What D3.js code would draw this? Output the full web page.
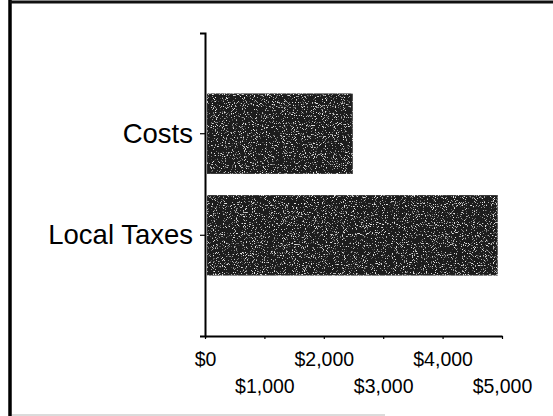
<!DOCTYPE html>
<html>
<head>
<meta charset="utf-8">
<script src="https://cdn.jsdelivr.net/npm/d3@7/dist/d3.min.js"></script>
<style>
  html, body { margin: 0; padding: 0; background: #fff; }
  svg { display: block; font-family: "Liberation Sans", Arial, sans-serif; }
</style>
</head>
<body>
<svg id="chart" width="553" height="416"></svg>
<script>
// Expense categories, drawn bottom to top
const categories = ["Local Taxes", "Costs"];
const amounts = [4920, 2480];
const tickValues = [0, 1000, 2000, 3000, 4000, 5000];
const tickLabels = ["$0", "$1,000", "$2,000", "$3,000", "$4,000", "$5,000"];

const svg = d3.select("#chart");
const W = 553, H = 416;
const plot = { left: 205, right: 502, top: 33, bottom: 336 };

// Grainy fill for the bars
const defs = svg.append("defs");
const f = defs.append("filter").attr("id", "speckle")
  .attr("x", 0).attr("y", 0).attr("width", 1).attr("height", 1);
f.append("feTurbulence").attr("type", "fractalNoise")
  .attr("baseFrequency", 0.9).attr("numOctaves", 2).attr("seed", 7).attr("result", "noise");
f.append("feColorMatrix").attr("in", "noise").attr("type", "matrix")
  .attr("values", "0 0 0 0 0.8  0 0 0 0 0.8  0 0 0 0 0.8  7 0 0 0 -4.2").attr("result", "dots");
f.append("feComposite").attr("in", "dots").attr("in2", "SourceAlpha")
  .attr("operator", "in").attr("result", "clipped");
const merge = f.append("feMerge");
merge.append("feMergeNode").attr("in", "SourceGraphic");
merge.append("feMergeNode").attr("in", "clipped");

// Frame
svg.append("line").attr("x1", 10).attr("x2", 10).attr("y1", 0).attr("y2", H)
  .attr("stroke", "#000").attr("stroke-width", 3.5);
svg.append("line").attr("x1", 10).attr("x2", W).attr("y1", 2).attr("y2", 2)
  .attr("stroke", "#111").attr("stroke-width", 3);
svg.append("line").attr("x1", 12).attr("x2", 385).attr("y1", 415).attr("y2", 415)
  .attr("stroke", "#cfcfcf").attr("stroke-width", 1.5);

// Scales
const x = d3.scaleLinear().domain([0, 5000]).range([plot.left, plot.right]);
const y = d3.scaleBand().domain(categories)
  .range([plot.bottom, plot.top])
  .paddingInner(0.216).paddingOuter(0.6);

// Bars
svg.append("g").selectAll("rect")
  .data(categories.map((c, i) => ({ c, v: amounts[i] })))
  .join("rect")
  .attr("x", x(0) + 2)
  .attr("y", d => y(d.c))
  .attr("width", d => x(d.v) - x(0) - 2)
  .attr("height", y.bandwidth())
  .attr("fill", "#1a1a1a")
  .attr("stroke", "#3a3a3a")
  .attr("stroke-width", 1)
  .attr("filter", "url(#speckle)");

// Category axis
const yAxis = svg.append("g")
  .attr("transform", `translate(${plot.left},0)`)
  .call(d3.axisLeft(y).tickSize(5).tickSizeOuter(5).tickPadding(7));
yAxis.select(".domain").attr("stroke", "#000").attr("stroke-width", 2);
yAxis.selectAll(".tick line").attr("stroke", "#000").attr("stroke-width", 1.2);
yAxis.selectAll(".tick text")
  .attr("font-size", 27.5).attr("fill", "#000")
  .attr("font-family", "'Liberation Sans', Arial, sans-serif");

// Value axis with staggered labels
const xAxis = svg.append("g")
  .attr("transform", `translate(0,${plot.bottom})`)
  .call(d3.axisBottom(x).tickValues(tickValues)
    .tickFormat((d, i) => tickLabels[i]).tickSize(3).tickSizeOuter(0));
xAxis.select(".domain").attr("stroke", "#000").attr("stroke-width", 2);
xAxis.selectAll(".tick line").attr("stroke", "#000").attr("stroke-width", 1.2);
xAxis.selectAll(".tick text")
  .attr("font-size", 19.5).attr("fill", "#000")
  .attr("font-family", "'Liberation Sans', Arial, sans-serif")
  .attr("dy", null)
  .attr("y", (d, i) => i % 2 === 0 ? 29.5 : 56.5);
</script>
</body>
</html>
